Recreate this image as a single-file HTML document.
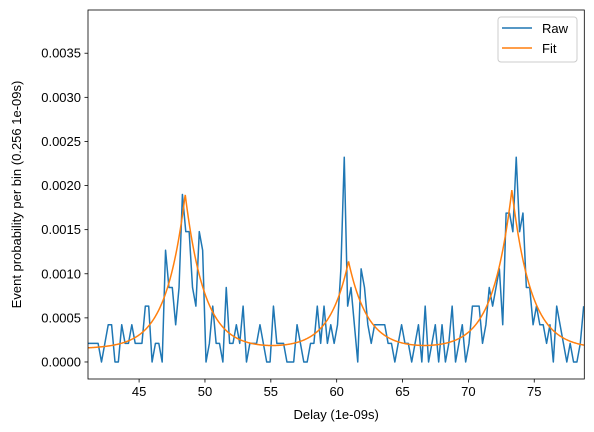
<!DOCTYPE html>
<html><head><meta charset="utf-8">
<style>
html,body{margin:0;padding:0;background:#fff;}
svg{display:block;font-family:"Liberation Sans","DejaVu Sans",sans-serif;}
</style></head>
<body>
<svg id="chart" width="594" height="432" viewBox="0 0 594 432" xmlns="http://www.w3.org/2000/svg">
</svg>
<script>
// ---- data ----
const rawCounts = [1,1,1,1,0,1,2,2,0,0,2,1,1,2,1,1,1,3,3,0,1,1,0,6,4,4,2,4,9,7,7,4,3,7,6,0,1,3,1,1,0,4,1,1,2,1,3,0,1,1,
1,2,1,0,0,3,1,1,1,0,0,0,2,1,0,0,1,1,3,1,3,1,2,1,2,5,11,3,4,2,0,5,4,2,1,2,2,2,2,1,1,0,1,2,1,1,0,1,2,
0,3,0,1,2,0,2,0,1,3,0,1,2,0,1,3,3,3,1,2,4,3,4,5,2,8,8,7,11,7,8,4,4,2,3,2,2,1,2,0,3,2,1,0,1,0,0,1,3];
const countUnit = 0.000211;
const xStart = 41.12;
const binWidth = 0.256;
const fitCenters = [48.5, 60.9, 73.3];
const fitAmps = [0.00175, 0.00099, 0.0018];
const fitTau = 1.45;
const fitBase = 0.00015;
const xTicks = [45,50,55,60,65,70,75];
const yTicks = [0,0.0005,0.001,0.0015,0.002,0.0025,0.003,0.0035];

// ---- axes ----
const L=88,R=584.3,T=10,B=379;
const xMin=41.12,xMax=78.8,yMin=-0.000193,yMax=0.00399;
const sx=v=>L+(v-xMin)/(xMax-xMin)*(R-L);
const sy=v=>B-(v-yMin)/(yMax-yMin)*(B-T);
const svg=document.getElementById('chart');
const NS='http://www.w3.org/2000/svg';
function mk(tag,attrs,parent){const e=document.createElementNS(NS,tag);for(const k in attrs)e.setAttribute(k,attrs[k]);(parent||svg).appendChild(e);return e;}

const clip=mk('clipPath',{id:'clip'});mk('rect',{x:L,y:T,width:R-L,height:B-T},clip);

// raw line
let d='';
rawCounts.forEach((c,i)=>{d+=(i?'L':'M')+sx(xStart+i*binWidth).toFixed(2)+','+sy(c*countUnit).toFixed(2);});
const raw=mk('path',{d:d,fill:'none',stroke:'#1f77b4','stroke-width':1.5,'stroke-linejoin':'round','clip-path':'url(#clip)'});



// fit line
let fd='';
for(let k=0;k<=1000;k++){const x=xMin+(xMax-xMin)*k/1000;let y=fitBase;fitCenters.forEach((c,j)=>{y+=fitAmps[j]*Math.exp(-Math.abs(x-c)/fitTau);});fd+=(k?'L':'M')+sx(x).toFixed(2)+','+sy(y).toFixed(2);}
const fit=mk('path',{d:fd,fill:'none',stroke:'#ff7f0e','stroke-width':1.5,'clip-path':'url(#clip)'});



// frame
const frame=mk('rect',{x:L,y:T,width:R-L,height:B-T,fill:'none',stroke:'#000','stroke-width':0.8});



// x ticks
xTicks.forEach(v=>{const x=sx(v);
 mk('line',{x1:x,x2:x,y1:B,y2:B+3.5,stroke:'#000','stroke-width':0.8});
 const t=mk('text',{x:x,y:B+17,'text-anchor':'middle','font-size':'13px',fill:'#000'});t.textContent=v;
 
 
});
// y ticks
yTicks.forEach(v=>{const y=sy(v);
 mk('line',{x1:L,x2:L-3.5,y1:y,y2:y,stroke:'#000','stroke-width':0.8});
 const t=mk('text',{x:L-7,y:y+4.5,'text-anchor':'end','font-size':'13px',fill:'#000'});t.textContent=v.toFixed(4);
 
 
});
// axis titles
const xt=mk('text',{x:(L+R)/2,y:419,'text-anchor':'middle','font-size':'13px',fill:'#000'});xt.textContent='Delay (1e-09s)';


const yt=mk('text',{x:0,y:0,'text-anchor':'middle','font-size':'13px',fill:'#000',transform:'translate(21,'+((T+B)/2)+') rotate(-90)'});yt.textContent='Event probability per bin (0.256 1e-09s)';



// legend
const lg=mk('g',{});


mk('rect',{x:498,y:17,width:79,height:45,rx:3,fill:'#fff','fill-opacity':0.8,stroke:'#ccc','stroke-width':1},lg);
const e1=mk('g',{},lg);


mk('line',{x1:502,x2:532,y1:28,y2:28,stroke:'#1f77b4','stroke-width':1.5},e1);
const t1=mk('text',{x:542,y:33,'font-size':'13px',fill:'#000'},e1);t1.textContent='Raw';
const e2=mk('g',{},lg);


mk('line',{x1:502,x2:532,y1:48,y2:48,stroke:'#ff7f0e','stroke-width':1.5},e2);
const t2=mk('text',{x:542,y:53,'font-size':'13px',fill:'#000'},e2);t2.textContent='Fit';
</script>
</body></html>
